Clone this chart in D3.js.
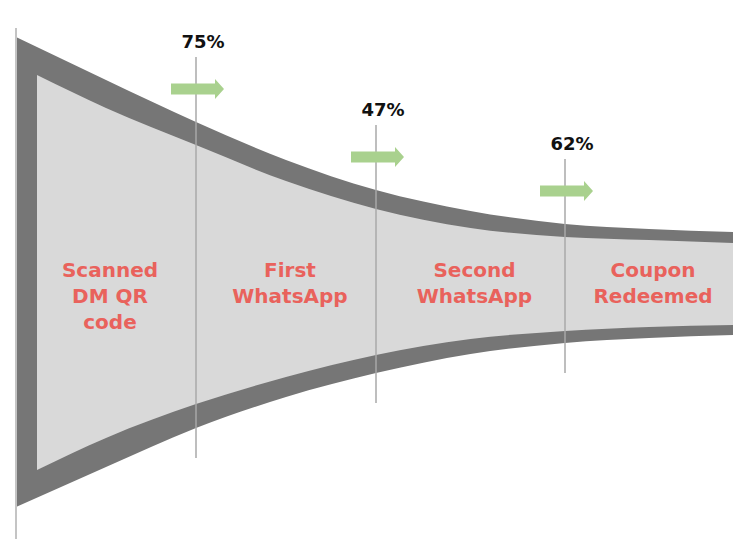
<!DOCTYPE html>
<html>
<head>
<meta charset="utf-8">
<script src="https://cdn.jsdelivr.net/npm/d3@7"></script>
<style>
  html, body { margin: 0; padding: 0; background: #fff; }
  svg { display: block; }
</style>
</head>
<body>
<div id="chart"></div>
<script>
/*************************/
/* CONSTANTS AND GLOBALS */
/*************************/
const width = 733;
const height = 539;

/* funnel stages and step conversion */
const stageLines = [
  ["Scanned", "DM QR", "code"],
  ["First", "WhatsApp"],
  ["Second", "WhatsApp"],
  ["Coupon", "Redeemed"]
];
const conversion = [75, 47, 62];

/* funnel profile, sampled every half stage (volume units, +/-100 at the mouth) */
const profileT    = [0, 0.5, 1, 1.5, 2, 2.5, 3, 3.5, 4];
const outerTop    = [100, 81.7, 63.8, 47.7, 34.9, 26.0, 20.4, 18.3, 17.0];
const outerBottom = [-100, -83.0, -66.4, -53.2, -43.0, -34.9, -30.2, -28.1, -26.8];
const innerTop    = [83.8, 69.8, 54.0, 38.7, 26.8, 18.7, 14.9, 13.6, 12.3];
const innerBottom = [-84.3, -70.6, -56.2, -44.7, -35.3, -28.5, -25.1, -23.4, -22.6];

const colors = {
  rim: "#767676",
  body: "#d9d9d9",
  divider: "#a9a9a9",
  axis: "#c4c4c4",
  arrow: "#a9d18e",
  label: "#e9625c",
  pct: "#111111"
};
const rim = 21;

/*********************************************************************/
/****************************** SCALES *******************************/
/*********************************************************************/
const xScale = d3.scaleLinear()
  .domain([0, 1, 2, 3, 4])
  .range([16, 196, 376, 565, 733]);

const yScale = d3.scaleLinear()
  .domain([100, -100])
  .range([37, 507]);

const svg = d3.select("#chart")
  .append("svg")
  .attr("width", width)
  .attr("height", height);

/*********************************************************************/
/****************************** FUNNEL *******************************/
/*********************************************************************/
const outerData = profileT.map((t, i) => ({ t, top: outerTop[i], bot: outerBottom[i] }));
const innerData = profileT.map((t, i) => ({ t, top: innerTop[i], bot: innerBottom[i] }));

const outerArea = d3.area()
  .x(d => xScale(d.t))
  .y0(d => yScale(d.bot))
  .y1(d => yScale(d.top))
  .curve(d3.curveMonotoneX);

const innerArea = d3.area()
  .x(d => d.t === 0 ? xScale(d.t) + rim : xScale(d.t))
  .y0(d => yScale(d.bot))
  .y1(d => yScale(d.top))
  .curve(d3.curveMonotoneX);

svg.append("path")
  .datum(outerData)
  .attr("d", outerArea)
  .attr("fill", colors.rim);

svg.append("path")
  .datum(innerData)
  .attr("d", innerArea)
  .attr("fill", colors.body);

// left axis line
svg.append("line")
  .attr("x1", xScale(0)).attr("x2", xScale(0))
  .attr("y1", yScale(100) - 9).attr("y2", height)
  .attr("stroke", colors.axis)
  .attr("stroke-width", 2);

/*********************************************************************/
/************************ DIVIDERS + ARROWS **************************/
/*********************************************************************/
const steps = conversion.map((v, i) => {
  const t = i + 1;
  const k = profileT.indexOf(t);
  return { t, v, top: yScale(outerTop[k]), bot: yScale(outerBottom[k]) };
});

svg.selectAll("line.divider")
  .data(steps)
  .join("line")
  .attr("class", "divider")
  .attr("x1", d => xScale(d.t)).attr("x2", d => xScale(d.t))
  .attr("y1", d => d.top - 65)
  .attr("y2", d => d.bot + 30)
  .attr("stroke", colors.divider)
  .attr("stroke-width", 1.5);

function arrowPath(d) {
  const x = xScale(d.t), y = d.top - 33;
  const p = d3.path();
  p.moveTo(x - 25, y - 5.5);
  p.lineTo(x + 19, y - 5.5);
  p.lineTo(x + 19, y - 10);
  p.lineTo(x + 28, y);
  p.lineTo(x + 19, y + 10);
  p.lineTo(x + 19, y + 5.5);
  p.lineTo(x - 25, y + 5.5);
  p.closePath();
  return p.toString();
}

svg.selectAll("path.arrow")
  .data(steps)
  .join("path")
  .attr("class", "arrow")
  .attr("d", arrowPath)
  .attr("fill", colors.arrow);

svg.selectAll("text.pct")
  .data(steps)
  .join("text")
  .attr("class", "pct")
  .attr("x", d => xScale(d.t) + 7)
  .attr("y", d => d.top - 74)
  .attr("text-anchor", "middle")
  .attr("font-family", "DejaVu Sans, sans-serif")
  .attr("font-weight", "bold")
  .attr("font-size", 18)
  .attr("fill", colors.pct)
  .text(d => d.v + "%");

/*********************************************************************/
/*************************** STAGE LABELS ****************************/
/*********************************************************************/
const labels = svg.selectAll("text.stage")
  .data(stageLines)
  .join("text")
  .attr("class", "stage")
  .attr("x", (d, i) => (xScale(i) + xScale(i + 1)) / 2 + 4)
  .attr("y", 277)
  .attr("text-anchor", "middle")
  .attr("font-family", "DejaVu Sans, sans-serif")
  .attr("font-weight", "bold")
  .attr("font-size", 20)
  .attr("fill", colors.label);

labels.selectAll("tspan")
  .data(d => d)
  .join("tspan")
  .attr("x", function () { return d3.select(this.parentNode).attr("x"); })
  .attr("dy", (d, i) => i === 0 ? 0 : 26)
  .text(d => d);
</script>
</body>
</html>
